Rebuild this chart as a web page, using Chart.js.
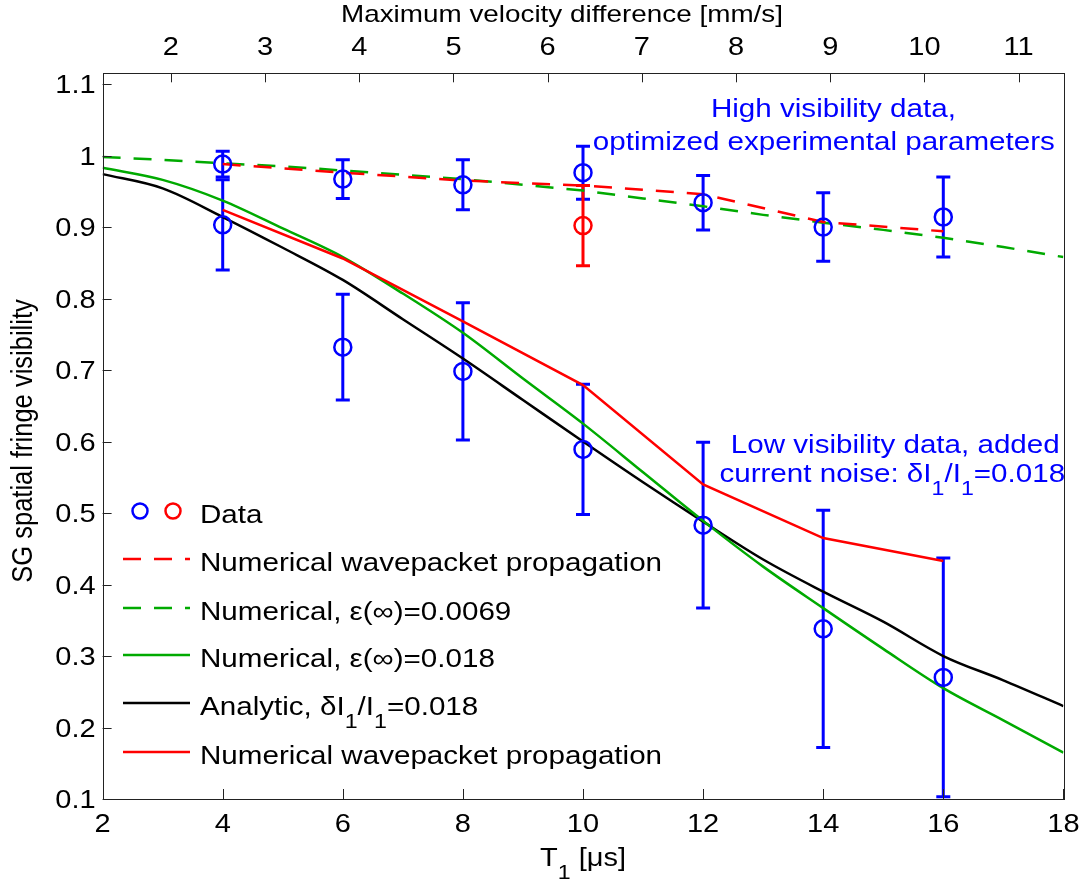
<!DOCTYPE html>
<html>
<head>
<meta charset="utf-8">
<script src="https://cdn.jsdelivr.net/npm/chart.js@4.4.0/dist/chart.umd.min.js"></script>
<style>
  html, body { margin: 0; padding: 0; background: #fff; }
  #wrap { width: 1086px; height: 888px; position: relative; }
</style>
</head>
<body>
<div id="wrap"><canvas id="chart"></canvas></div>
<script>
const FONT = '"Liberation Sans", Arial, Helvetica, sans-serif'
const BLUE = '#0000ff'
const RED = '#ff0000'
const GREEN = '#00aa00'
const BLACK = '#000000'
const SX = 1.16 // the reference text is a bit wide

// measured data points (T1 in us)
const tData = [4, 6, 8, 10, 12, 14, 16]
const visHigh = [0.988, 0.967, 0.959, 0.976, 0.934, 0.900, 0.914]
const errHigh = [0.018, 0.027, 0.035, 0.037, 0.038, 0.048, 0.056]
const visLow = [0.903, 0.732, 0.698, 0.589, 0.483, 0.338, 0.270]
const errLow = [0.063, 0.074, 0.096, 0.091, 0.116, 0.166, 0.167]
const tRedPoint = [10]
const visRedPoint = [0.902]
const errRedPoint = [0.056]

// simulation curves
const tCurve = [2, 3, 4, 5, 6, 7, 8, 9, 10, 11, 12, 13, 14, 15, 16, 17, 18]
const numEps0069 = [0.998, 0.994, 0.989, 0.985, 0.979, 0.973, 0.967, 0.959, 0.951, 0.940, 0.929, 0.917, 0.906, 0.896, 0.885, 0.872, 0.858]
const numEps018 = [0.983, 0.966, 0.937, 0.898, 0.858, 0.807, 0.752, 0.688, 0.625, 0.557, 0.489, 0.425, 0.367, 0.310, 0.255, 0.210, 0.165]
const analytic = [0.974, 0.954, 0.914, 0.871, 0.826, 0.771, 0.716, 0.658, 0.600, 0.543, 0.488, 0.435, 0.390, 0.348, 0.300, 0.266, 0.230]
const tWave = [4, 6, 8, 10, 12, 14, 16]
const waveHigh = [0.988, 0.976, 0.965, 0.958, 0.946, 0.907, 0.894]
const waveLow = [0.924, 0.856, 0.768, 0.679, 0.540, 0.465, 0.433]

// axes
const tTicks = [2, 4, 6, 8, 10, 12, 14, 16, 18]
const velTicks = [2, 3, 4, 5, 6, 7, 8, 9, 10, 11]
const visTicks = [0.1, 0.2, 0.3, 0.4, 0.5, 0.6, 0.7, 0.8, 0.9, 1, 1.1]
const velPerT = 0.6375 // mm/s per us

const pts = (xs, ys) => xs.map((x, i) => ({ x, y: ys[i] }))
const font = size => `${size}px ${FONT}`
const fmt = v => String(Math.round(v * 100) / 100)

// text with subscript pieces: [[text, isSub], ...], stretched horizontally by SX
function drawRich(ctx, parts, x, y, align, size, color) {
  const sub = Math.round(size * 0.78)
  let w = 0
  parts.forEach(([t, s]) => { ctx.font = font(s ? sub : size); w += ctx.measureText(t).width })
  let cx = align === 'center' ? -w / 2 : align === 'right' ? -w : 0
  ctx.save()
  ctx.translate(x, y)
  ctx.scale(SX, 1)
  ctx.fillStyle = color
  ctx.textBaseline = 'alphabetic'
  ctx.textAlign = 'left'
  parts.forEach(([t, s]) => {
    ctx.font = font(s ? sub : size)
    ctx.fillText(t, cx, s ? size * 0.52 : 0)
    cx += ctx.measureText(t).width
  })
  ctx.restore()
}
const drawText = (ctx, t, x, y, align, size, color) => drawRich(ctx, [[t, false]], x, y, align, size, color)

const errorBars = {
  id: 'errorBars',
  beforeDatasetsDraw(chart) {
    const { ctx, scales: { x, y } } = chart
    const sets = [
      [tData, visHigh, errHigh, BLUE],
      [tData, visLow, errLow, BLUE],
      [tRedPoint, visRedPoint, errRedPoint, RED],
    ]
    ctx.save()
    ctx.lineWidth = 3
    sets.forEach(([xs, ys, es, color]) => {
      ctx.strokeStyle = color
      xs.forEach((t, i) => {
        const px = x.getPixelForValue(t)
        const top = y.getPixelForValue(ys[i] + es[i])
        const bot = y.getPixelForValue(ys[i] - es[i])
        ctx.beginPath()
        ctx.moveTo(px, top); ctx.lineTo(px, bot)
        ctx.moveTo(px - 7, top); ctx.lineTo(px + 7, top)
        ctx.moveTo(px - 7, bot); ctx.lineTo(px + 7, bot)
        ctx.stroke()
      })
    })
    ctx.restore()
  },
}

const frame = {
  id: 'frame',
  afterDraw(chart) {
    const { ctx, chartArea: a, scales } = chart
    const { x, x2, y } = scales
    ctx.save()
    ctx.strokeStyle = '#222'
    ctx.lineWidth = 1
    ctx.strokeRect(Math.round(a.left) + 0.5, Math.round(a.top) + 0.5,
      Math.round(a.right - a.left), Math.round(a.bottom - a.top))

    // inward tick marks
    ctx.beginPath()
    x.ticks.forEach(t => {
      const px = Math.round(x.getPixelForValue(t.value)) + 0.5
      ctx.moveTo(px, a.bottom); ctx.lineTo(px, a.bottom - 10)
    })
    x2.ticks.forEach(t => {
      const px = Math.round(x2.getPixelForValue(t.value)) + 0.5
      ctx.moveTo(px, a.top); ctx.lineTo(px, a.top + 9)
    })
    y.ticks.forEach(t => {
      const py = Math.round(y.getPixelForValue(t.value)) + 0.5
      ctx.moveTo(a.left, py); ctx.lineTo(a.left + 9, py)
    })
    ctx.stroke()

    // tick labels
    x.ticks.forEach(t => drawText(ctx, fmt(t.value), x.getPixelForValue(t.value), a.bottom + 33, 'center', 25, BLACK))
    x2.ticks.forEach(t => drawText(ctx, fmt(t.value), x2.getPixelForValue(t.value), a.top - 18, 'center', 25, BLACK))
    y.ticks.forEach(t => drawText(ctx, fmt(t.value), a.left - 7, y.getPixelForValue(t.value) + 9, 'right', 25, BLACK))

    // axis titles
    drawText(ctx, 'Maximum velocity difference [mm/s]', 562, 22, 'center', 24, BLACK)
    drawRich(ctx, [['T', false], ['1', true], [' [\u03bcs]', false]], (a.left + a.right) / 2, 866, 'center', 25, BLACK)
    ctx.save()
    ctx.translate(32, 441)
    ctx.rotate(-Math.PI / 2)
    ctx.scale(1, SX)
    ctx.fillStyle = BLACK
    ctx.font = font(25.5)
    ctx.textAlign = 'center'
    ctx.textBaseline = 'alphabetic'
    ctx.fillText('SG spatial fringe visibility', 0, 0)
    ctx.restore()

    // annotations
    const ax = v => x.getPixelForValue(v)
    const ay = v => y.getPixelForValue(v)
    drawText(ctx, 'High visibility data,', ax(14.17), ay(1.054), 'center', 25.5, BLUE)
    drawText(ctx, 'optimized experimental parameters', ax(14.01), ay(1.008), 'center', 25.5, BLUE)
    drawText(ctx, 'Low visibility data, added', ax(15.2), ay(0.584), 'center', 25.5, BLUE)
    drawRich(ctx, [['current noise: \u03b4I', false], ['1', true], ['/I', false], ['1', true], ['=0.018', false]],
      ax(15.15), ay(0.544), 'center', 25.5, BLUE)

    // legend
    const ds = chart.data.datasets
    const rows = [
      { y: 511, set: null, label: [['Data', false]] },
      { y: 559, set: ds[3], label: [['Numerical wavepacket propagation', false]] },
      { y: 608, set: ds[4], label: [['Numerical, \u03b5(\u221e)=0.0069', false]] },
      { y: 655, set: ds[5], label: [['Numerical, \u03b5(\u221e)=0.018', false]] },
      { y: 703, set: ds[6], label: [['Analytic, \u03b4I', false], ['1', true], ['/I', false], ['1', true], ['=0.018', false]] },
      { y: 752, set: ds[7], label: [['Numerical wavepacket propagation', false]] },
    ]
    rows.forEach(r => {
      ctx.save()
      if (r.set) {
        ctx.strokeStyle = r.set.borderColor
        ctx.lineWidth = r.set.borderWidth
        ctx.setLineDash(r.set.borderDash || [])
        ctx.beginPath()
        ctx.moveTo(123, r.y); ctx.lineTo(190, r.y)
        ctx.stroke()
      } else {
        ctx.lineWidth = 2.5
        ;[[140, ds[0].borderColor], [173, ds[2].borderColor]].forEach(([cx, c]) => {
          ctx.strokeStyle = c
          ctx.beginPath()
          ctx.arc(cx, r.y, 7.5, 0, Math.PI * 2)
          ctx.stroke()
        })
      }
      ctx.restore()
      drawRich(ctx, r.label, 200, r.y + 12, 'left', 25.5, BLACK)
    })
    ctx.restore()
  },
}

const circle = (label, data, color) => ({
  label, data, borderColor: color, backgroundColor: 'rgba(0,0,0,0)',
  pointRadius: 8.5, borderWidth: 2.5, showLine: false, order: 0,
})
const curve = (label, data, color, extra) => Object.assign({
  label, data, borderColor: color, borderWidth: 2.5, showLine: true, pointRadius: 0, order: 2,
}, extra)
const hiddenTicks = { display: false }

new Chart(document.getElementById('chart'), {
  type: 'scatter',
  data: {
    datasets: [
      circle('Data high', pts(tData, visHigh), BLUE),
      circle('Data low', pts(tData, visLow), BLUE),
      circle('Data red', pts(tRedPoint, visRedPoint), RED),
      curve('Numerical wavepacket propagation', pts(tWave, waveHigh), RED, { borderDash: [18, 13] }),
      curve('Numerical, eps=0.0069', pts(tCurve, numEps0069), GREEN, { borderDash: [18, 13], order: 3 }),
      curve('Numerical, eps=0.018', pts(tCurve, numEps018), GREEN, { cubicInterpolationMode: 'monotone', order: 3 }),
      curve('Analytic', pts(tCurve, analytic), BLACK, { cubicInterpolationMode: 'monotone', order: 3 }),
      curve('Numerical wavepacket propagation (low)', pts(tWave, waveLow), RED),
    ],
  },
  options: {
    responsive: true,
    maintainAspectRatio: false,
    animation: false,
    layout: { padding: { left: 0, right: 22.6, top: 0, bottom: 0 } },
    plugins: { legend: { display: false }, tooltip: { enabled: false } },
    scales: {
      x: {
        type: 'linear', position: 'bottom', min: 2, max: 18,
        afterBuildTicks: s => { s.ticks = tTicks.map(value => ({ value })) },
        afterFit: s => { s.height = 89 },
        grid: { display: false, drawTicks: false },
        border: { display: false },
        ticks: hiddenTicks,
      },
      x2: {
        type: 'linear', position: 'top', min: 2 * velPerT, max: 18 * velPerT,
        afterBuildTicks: s => { s.ticks = velTicks.map(value => ({ value })) },
        afterFit: s => { s.height = 73.3 },
        grid: { display: false, drawTicks: false },
        border: { display: false },
        ticks: hiddenTicks,
      },
      y: {
        type: 'linear', position: 'left', min: 0.1, max: 1.115,
        afterBuildTicks: s => { s.ticks = visTicks.map(value => ({ value })) },
        afterFit: s => { s.width = 102.6 },
        grid: { display: false, drawTicks: false },
        border: { display: false },
        ticks: hiddenTicks,
      },
    },
  },
  plugins: [errorBars, frame],
})
</script>
</body>
</html>
